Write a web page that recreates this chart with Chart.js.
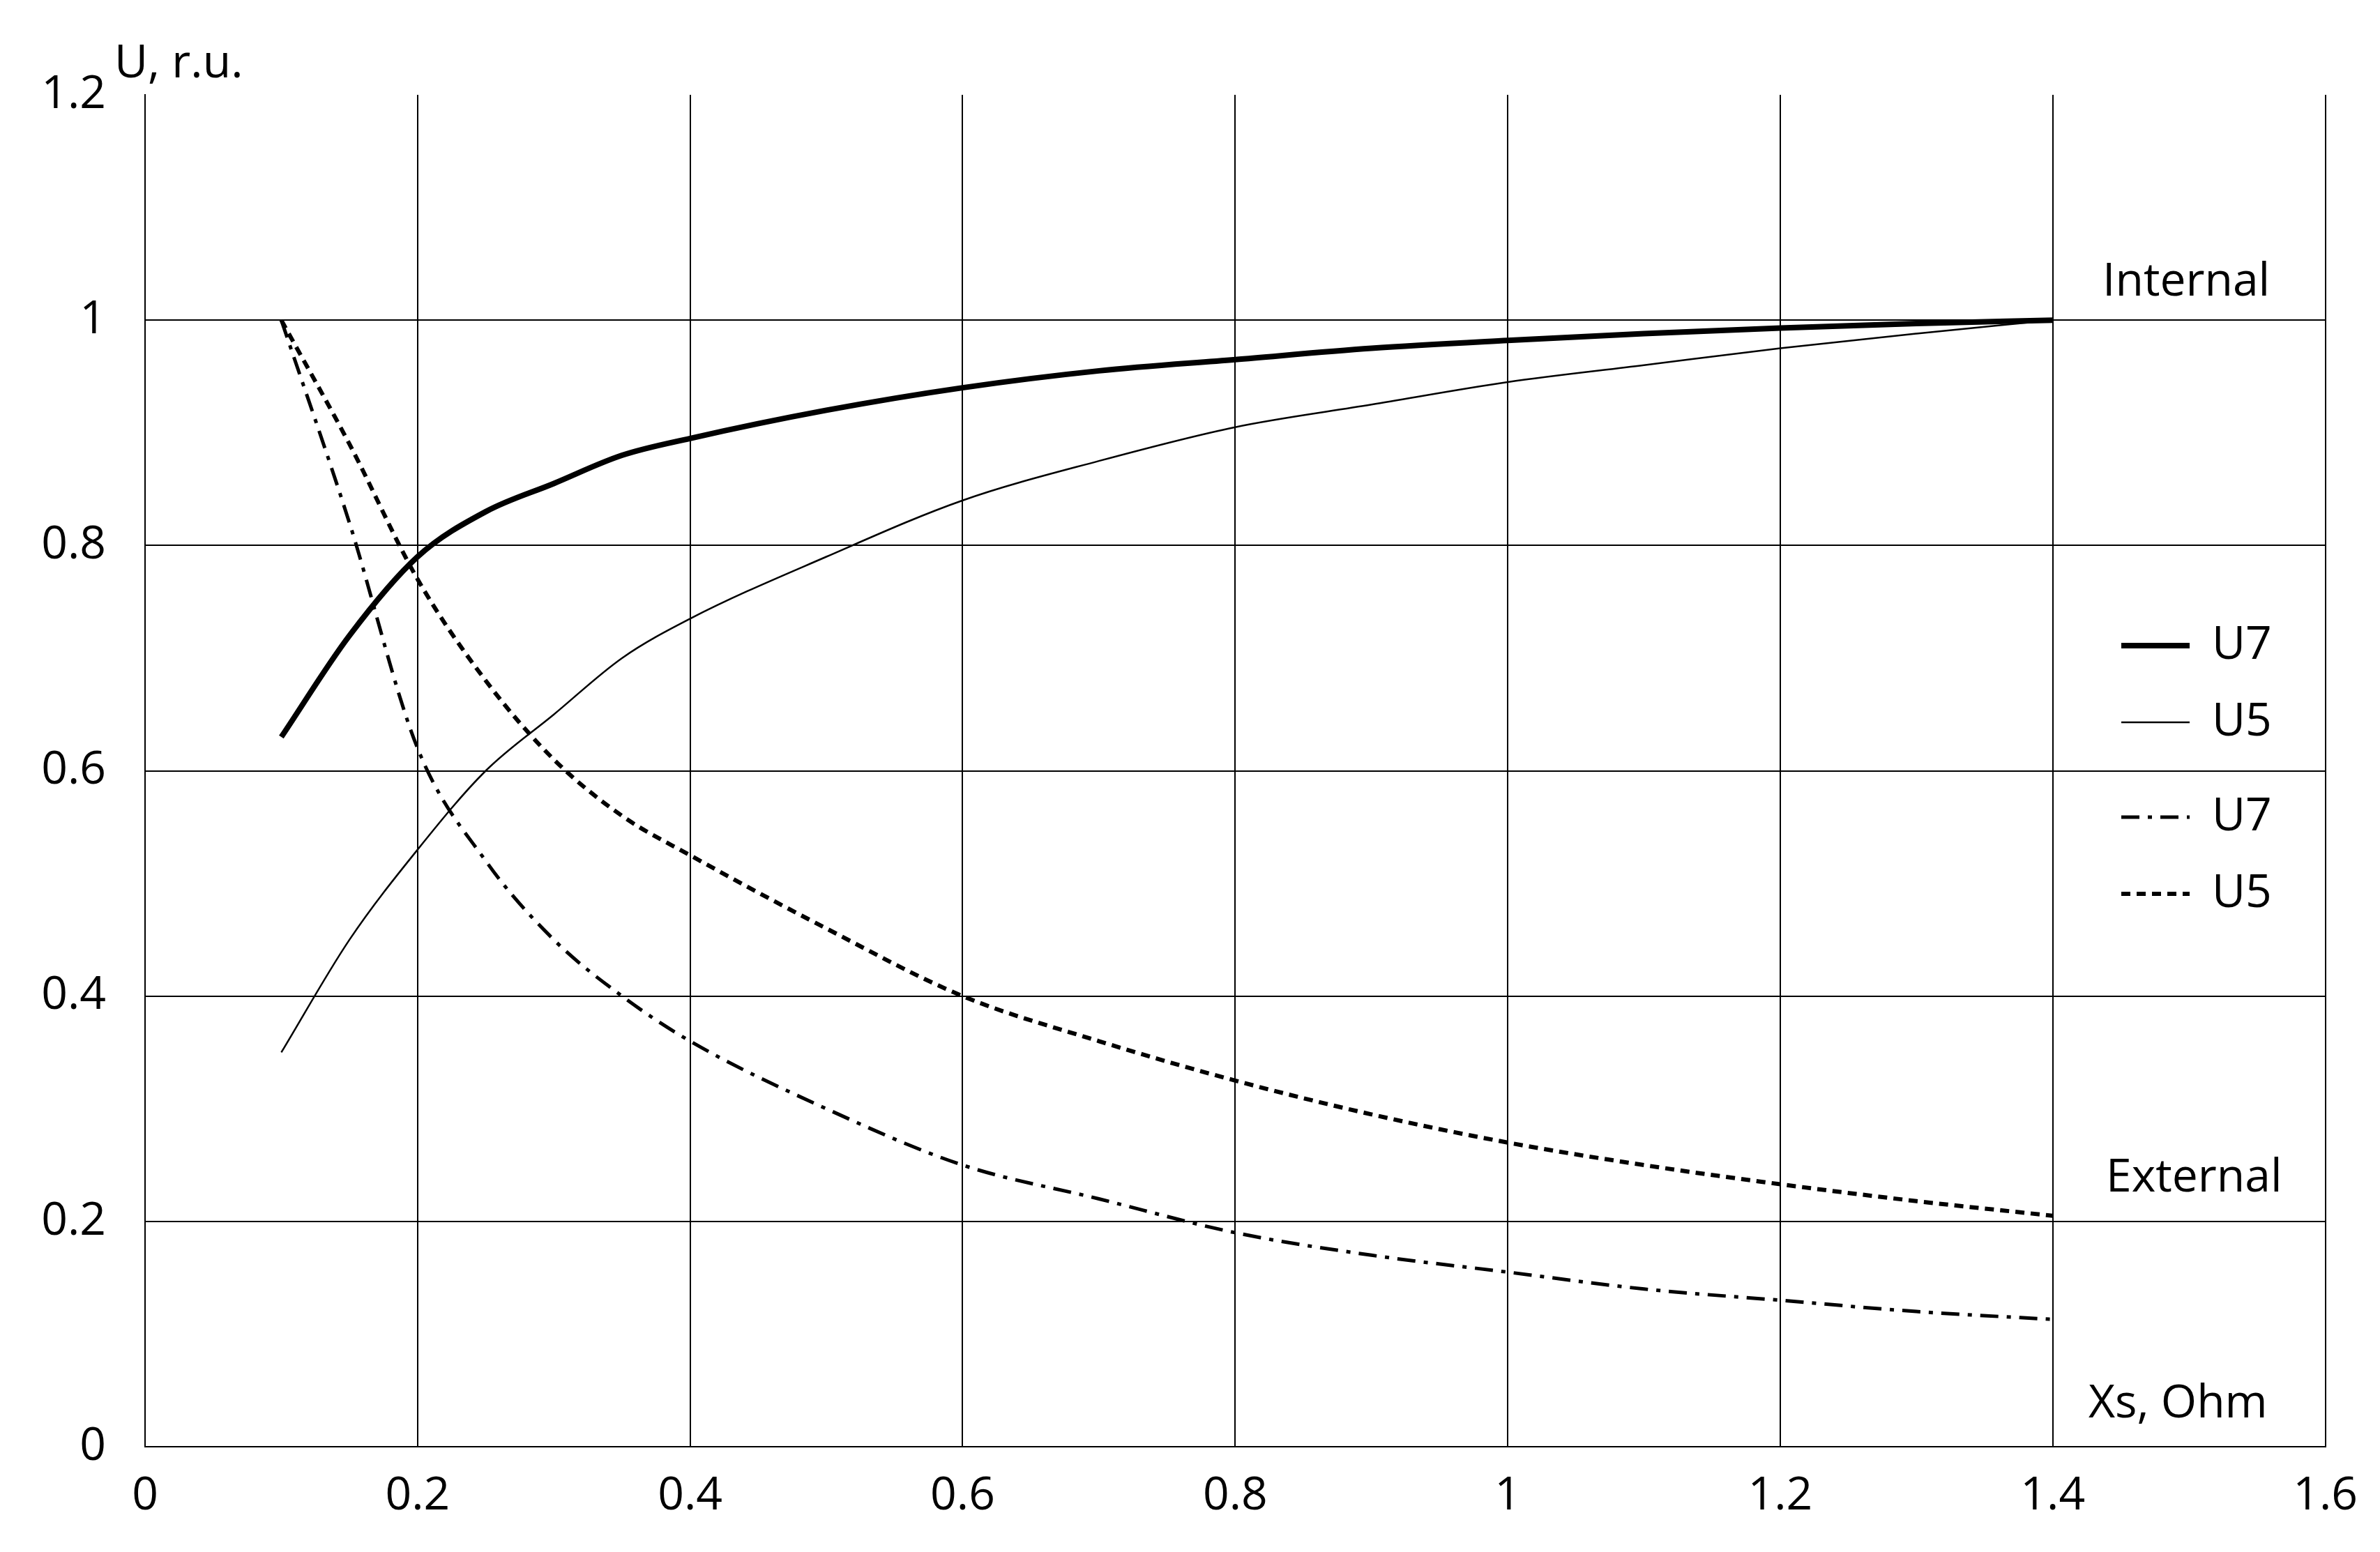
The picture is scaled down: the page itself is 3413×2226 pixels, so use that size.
<!DOCTYPE html>
<html>
<head>
<meta charset="utf-8">
<script src="https://cdn.jsdelivr.net/npm/chart.js@4/dist/chart.umd.min.js"></script>
<style>
  html, body { margin: 0; padding: 0; background: #fff; }
  #wrap { width: 3413px; height: 2226px; }
</style>
</head>
<body>
<div id="wrap"><canvas id="c"></canvas></div>
<script>
// Xs, Ohm
const xs = [0.1, 0.15, 0.2, 0.25, 0.3, 0.35, 0.4, 0.5, 0.6, 0.7, 0.8, 0.9, 1.0, 1.1, 1.2, 1.3, 1.4];
// internal
const u7Int = [0.63, 0.72, 0.79, 0.83, 0.855, 0.88, 0.895, 0.92, 0.94, 0.955, 0.965, 0.975, 0.982, 0.988, 0.993, 0.997, 1.0];
const u5Int = [0.35, 0.45, 0.53, 0.60, 0.65, 0.70, 0.735, 0.79, 0.84, 0.875, 0.905, 0.925, 0.945, 0.96, 0.975, 0.988, 1.0];
// external
const u7Ext = [1.0, 0.82, 0.62, 0.52, 0.45, 0.40, 0.36, 0.30, 0.25, 0.22, 0.19, 0.17, 0.155, 0.14, 0.13, 0.12, 0.113];
const u5Ext = [1.0, 0.89, 0.77, 0.68, 0.61, 0.56, 0.525, 0.46, 0.40, 0.36, 0.325, 0.295, 0.27, 0.25, 0.233, 0.218, 0.205];
const xTicks = [0, 0.2, 0.4, 0.6, 0.8, 1, 1.2, 1.4, 1.6];
const yTicks = [0, 0.2, 0.4, 0.6, 0.8, 1, 1.2];

const FONT = '"Liberation Sans Narrow", "Open Sans", "Liberation Sans", Arial, sans-serif';
const pts = arr => xs.map((x, i) => ({ x: x, y: arr[i] }));

const series = [
  { label: 'U7', data: pts(u7Int), borderWidth: 8, borderDash: [] },
  { label: 'U5', data: pts(u5Int), borderWidth: 2.5, borderDash: [] },
  { label: 'U7', data: pts(u7Ext), borderWidth: 5, borderDash: [26, 12, 6, 12] },
  { label: 'U5', data: pts(u5Ext), borderWidth: 6, borderDash: [13, 9] }
];

const extras = {
  id: 'extras',
  afterDraw(chart) {
    const ctx = chart.ctx;
    ctx.save();
    ctx.fillStyle = '#000';
    ctx.textBaseline = 'middle';
    ctx.font = '66px ' + FONT;
    ctx.fillText('U, r.u.', 164, 92);
    ctx.fillText('Internal', 3015, 405);
    ctx.fillText('External', 3020, 1690);
    ctx.fillText('Xs, Ohm', 2995, 2014);
    // legend
    const ly = [926, 1036, 1172, 1282];
    series.forEach((s, i) => {
      ctx.beginPath();
      ctx.lineWidth = s.borderWidth;
      ctx.strokeStyle = '#000';
      ctx.setLineDash(s.borderDash);
      ctx.moveTo(3042, ly[i]);
      ctx.lineTo(3140, ly[i]);
      ctx.stroke();
      ctx.setLineDash([]);
      ctx.fillText(s.label, 3172, ly[i]);
    });
    ctx.restore();
  }
};

new Chart(document.getElementById('c'), {
  type: 'line',
  data: {
    datasets: series.map(s => ({
      label: s.label,
      data: s.data,
      borderColor: '#000',
      borderWidth: s.borderWidth,
      borderDash: s.borderDash,
      pointRadius: 0,
      tension: 0.4,
      cubicInterpolationMode: 'monotone',
      fill: false
    }))
  },
  options: {
    responsive: true,
    maintainAspectRatio: false,
    animation: false,
    layout: { padding: { top: 136, right: 65 } },
    plugins: { legend: { display: false }, tooltip: { enabled: false } },
    scales: {
      x: {
        type: 'linear', min: 0, max: 1.6,
        afterBuildTicks: a => { a.ticks = xTicks.map(v => ({ value: v })); },
        afterFit: a => { a.height = 151; },
        grid: { color: '#000', lineWidth: 2, drawTicks: false },
        border: { color: '#000', width: 2 },
        ticks: { color: '#000', font: { family: FONT, size: 66 }, padding: 32, callback: v => String(v) }
      },
      y: {
        type: 'linear', min: 0, max: 1.2,
        afterBuildTicks: a => { a.ticks = yTicks.map(v => ({ value: v })); },
        afterFit: a => { a.width = 208; },
        grid: { color: c => c.tick && c.tick.value === 1.2 ? 'rgba(0,0,0,0)' : '#000', lineWidth: 2, drawTicks: false },
        border: { color: '#000', width: 2 },
        ticks: { color: '#000', font: { family: FONT, size: 66 }, padding: 56, callback: v => String(v) }
      }
    }
  },
  plugins: [extras]
});
</script>
</body>
</html>
